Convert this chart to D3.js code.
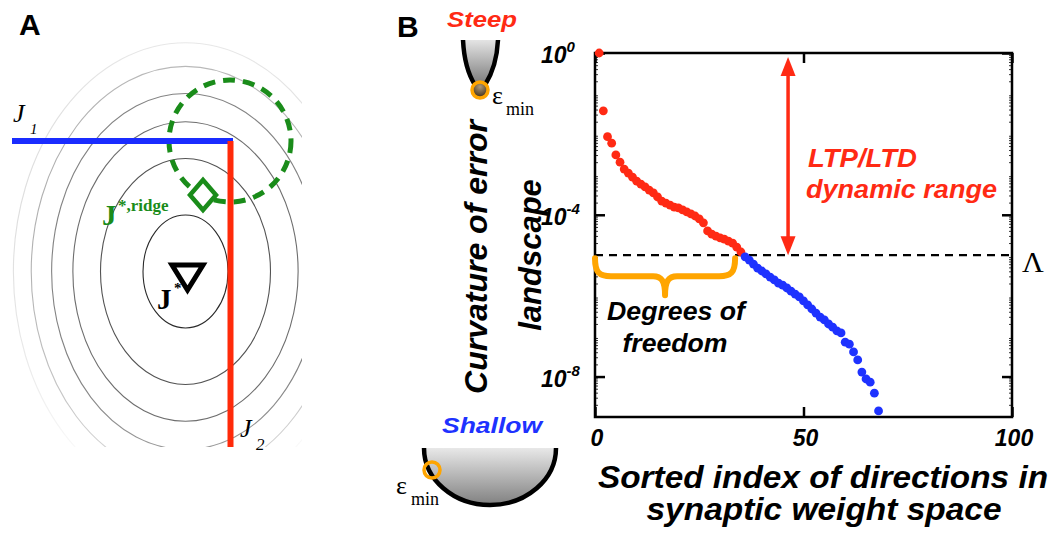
<!DOCTYPE html>
<html lang="en">
<head>
<meta charset="UTF-8">
<title>Curvature of error landscape</title>
<script src="https://cdnjs.cloudflare.com/ajax/libs/d3/7.8.5/d3.min.js"></script>
<style>
  body { margin: 0; background: #fff; }
  svg { display: block; }
  .sans { font-family: "Liberation Sans", Arial, sans-serif; font-weight: bold; font-style: italic; }
  .upright { font-style: normal; }
  .serif { font-family: "Liberation Serif", "Times New Roman", serif; }
</style>
</head>
<body>
<div id="chart"></div>
<script>
// sorted directions, curvature given as log10
const steepIndex = [1, 2, 3, 4, 5, 6, 7, 8, 9, 10, 11, 12, 13, 14, 15, 16, 17, 18,
  19, 20, 21, 22, 23, 24, 25, 26, 27, 28, 29, 30, 31, 32, 33, 34, 35];
const steepLog10 = [0, -1.43, -2.07, -2.23, -2.52, -2.70, -2.87, -2.97, -3.07, -3.17,
  -3.24, -3.31, -3.39, -3.46, -3.56, -3.66, -3.71, -3.76, -3.81, -3.83,
  -3.88, -3.93, -3.98, -4.03, -4.10, -4.20, -4.40, -4.48, -4.53, -4.57,
  -4.60, -4.65, -4.70, -4.80, -4.92];
const shallowIndex = [36, 37, 38, 39, 40, 41, 42, 43, 44, 45, 46, 47, 48, 49, 50, 51,
  52, 53, 54, 55, 56, 57, 58, 59, 60, 61, 62, 63, 64, 65, 66, 67, 68];
const shallowLog10 = [-5.04, -5.12, -5.22, -5.32, -5.39, -5.46, -5.54, -5.61, -5.69, -5.74,
  -5.81, -5.89, -5.96, -6.03, -6.13, -6.23, -6.33, -6.43, -6.53, -6.60,
  -6.70, -6.78, -6.87, -6.92, -7.15, -7.20, -7.39, -7.59, -7.89, -8.06,
  -8.14, -8.41, -8.85];
const lambdaLog10 = -5;
const xTickValues = [0, 50, 100];
const yTickExponents = [0, -4, -8];
// panel A: relative size of the contour ellipses
const contourScales = [1, 2, 2.65, 3.15, 3.63, 4.05];

const width = 1060, height = 537;
const red = "#ff2a14", blue = "#1e32ff", green = "#1a8c1a", orange = "#ffa500";

const svg = d3.select("#chart").append("svg")
  .attr("width", width).attr("height", height);

const defs = svg.append("defs");
const fade = defs.append("radialGradient").attr("id", "fade")
  .attr("gradientUnits", "userSpaceOnUse")
  .attr("cx", 185).attr("cy", 262).attr("r", 235)
  .attr("gradientTransform", "translate(185,262) scale(0.8,1) translate(-185,-262)");
fade.append("stop").attr("offset", "0.75").attr("stop-color", "#fff");
fade.append("stop").attr("offset", "1").attr("stop-color", "#000");
const mask = defs.append("mask").attr("id", "fadeMask");
mask.append("rect").attr("width", width).attr("height", height).attr("fill", "url(#fade)");
defs.append("clipPath").attr("id", "clipA")
  .append("rect").attr("x", 0).attr("y", 40).attr("width", 302).attr("height", 407);

const steepGrad = defs.append("linearGradient").attr("id", "steepGrad")
  .attr("x1", 0).attr("y1", 0).attr("x2", 0).attr("y2", 1);
steepGrad.append("stop").attr("offset", 0).attr("stop-color", "#e4e4e4");
steepGrad.append("stop").attr("offset", 1).attr("stop-color", "#7a7a7a");
const bowlGrad = defs.append("linearGradient").attr("id", "bowlGrad")
  .attr("x1", 0).attr("y1", 0).attr("x2", 0).attr("y2", 1);
bowlGrad.append("stop").attr("offset", 0).attr("stop-color", "#e8e8e8");
bowlGrad.append("stop").attr("offset", 1).attr("stop-color", "#808080");
const ballGrad = defs.append("radialGradient").attr("id", "ballGrad")
  .attr("cx", 0.5).attr("cy", 0.3).attr("r", 0.7);
ballGrad.append("stop").attr("offset", 0).attr("stop-color", "#b09a78");
ballGrad.append("stop").attr("offset", 1).attr("stop-color", "#3a2810");

// ---------- Panel A ----------
svg.append("text").attr("class", "sans upright").attr("x", 19).attr("y", 35)
  .attr("font-size", 30).text("A");

const cont = svg.append("g").attr("clip-path", "url(#clipA)").attr("mask", "url(#fadeMask)");
const contourGray = d3.scaleLinear().domain([1, 4.05]).range(["#2a2a2a", "#a8a8a8"]);
cont.selectAll("ellipse").data(contourScales).join("ellipse")
  .attr("cx", 185.5).attr("cy", 271.5)
  .attr("rx", k => 42.5 * k).attr("ry", k => 56.5 * k)
  .attr("fill", "none").attr("stroke", k => contourGray(k)).attr("stroke-width", 1.1);

svg.append("circle").attr("cx", 230).attr("cy", 141).attr("r", 61)
  .attr("fill", "none").attr("stroke", green).attr("stroke-width", 5)
  .attr("stroke-dasharray", "12 8");

svg.append("line").attr("x1", 12).attr("x2", 233).attr("y1", 141).attr("y2", 141)
  .attr("stroke", "#1a2cff").attr("stroke-width", 6);
svg.append("line").attr("x1", 230.5).attr("x2", 230.5).attr("y1", 141).attr("y2", 447)
  .attr("stroke", "#ff2a0a").attr("stroke-width", 6);

svg.append("path").attr("d", "M203,180 L216,195 L203,210 L190,195 Z")
  .attr("fill", "#fff").attr("stroke", green).attr("stroke-width", 4.5);

svg.append("path").attr("d", "M172,265 L203,265 L187.5,290 Z")
  .attr("fill", "none").attr("stroke", "#000").attr("stroke-width", 5)
  .attr("stroke-linejoin", "miter");

const jStar = svg.append("text").attr("class", "serif").attr("font-weight", "bold");
jStar.append("tspan").attr("x", 157).attr("y", 309).attr("font-size", 29).text("J");
jStar.append("tspan").attr("x", 174).attr("y", 293).attr("font-size", 15).text("*");

const jRidge = svg.append("text").attr("class", "serif").attr("font-weight", "bold").attr("fill", green);
jRidge.append("tspan").attr("x", 102).attr("y", 225).attr("font-size", 29).text("J");
jRidge.append("tspan").attr("x", 118).attr("y", 211).attr("font-size", 17).text("*,ridge");

const j1 = svg.append("text").attr("class", "serif").attr("font-style", "italic");
j1.append("tspan").attr("x", 13).attr("y", 122).attr("font-size", 26).text("J");
j1.append("tspan").attr("x", 30).attr("y", 134).attr("font-size", 15).text("1");
const j2 = svg.append("text").attr("class", "serif").attr("font-style", "italic");
j2.append("tspan").attr("x", 240).attr("y", 437).attr("font-size", 26).text("J");
j2.append("tspan").attr("x", 256).attr("y", 450).attr("font-size", 17).text("2");

// ---------- Panel B ----------
svg.append("text").attr("class", "sans upright").attr("x", 397).attr("y", 37)
  .attr("font-size", 30).text("B");

const x = d3.scaleLinear().domain([0, 100]).range([595, 1012]);
const y = d3.scaleLog().domain([1e-9, 1]).range([417, 53]);

// minor log ticks
const minorTicks = [];
for (let e = -9; e < 0; e++) for (let m = 2; m <= 9; m++) minorTicks.push(m * Math.pow(10, e));

const axisStyle = g => {
  g.select(".domain").remove();
  g.selectAll("line").attr("stroke", "#000");
};
svg.append("g").attr("transform", `translate(${x(0)},0)`)
  .call(d3.axisLeft(y).tickValues(minorTicks).tickSize(-3).tickFormat(""))
  .call(axisStyle).selectAll("line").attr("stroke-width", 0.8);
svg.append("g").attr("transform", `translate(${x(100)},0)`)
  .call(d3.axisRight(y).tickValues(minorTicks).tickSize(-3).tickFormat(""))
  .call(axisStyle).selectAll("line").attr("stroke-width", 0.8);
const majorY = yTickExponents.map(e => Math.pow(10, e));
svg.append("g").attr("transform", `translate(${x(0)},0)`)
  .call(d3.axisLeft(y).tickValues(majorY).tickSize(-10).tickFormat(""))
  .call(axisStyle).selectAll("line").attr("stroke-width", 2.5);
svg.append("g").attr("transform", `translate(${x(100)},0)`)
  .call(d3.axisRight(y).tickValues(majorY).tickSize(-10).tickFormat(""))
  .call(axisStyle).selectAll("line").attr("stroke-width", 2.5);
svg.append("g").attr("transform", `translate(0,${y(1e-9)})`)
  .call(d3.axisBottom(x).tickValues(xTickValues).tickSize(-10).tickFormat(""))
  .call(axisStyle).selectAll("line").attr("stroke-width", 2.5);
svg.append("g").attr("transform", `translate(0,${y(1)})`)
  .call(d3.axisTop(x).tickValues(xTickValues).tickSize(-10).tickFormat(""))
  .call(axisStyle).selectAll("line").attr("stroke-width", 2.5);

svg.append("rect").attr("x", x(0)).attr("y", y(1))
  .attr("width", x(100) - x(0)).attr("height", y(1e-9) - y(1))
  .attr("fill", "none").attr("stroke", "#000").attr("stroke-width", 2.5);

// tick labels
yTickExponents.forEach(e => {
  const t = svg.append("text").attr("class", "sans").attr("x", 541)
    .attr("y", y(Math.pow(10, e)) + 10).attr("font-size", 23);
  t.append("tspan").text("10");
  t.append("tspan").attr("dy", -11).attr("font-size", 15).text(e === 0 ? "0" : "-" + (-e));
});
svg.selectAll(".xlab").data(xTickValues).join("text").attr("class", "sans xlab")
  .attr("x", d => x(d) + 2).attr("y", 446).attr("text-anchor", "middle")
  .attr("font-size", 23).text(d => d);

// threshold lambda
const yl = y(Math.pow(10, lambdaLog10));
svg.append("line").attr("x1", x(0)).attr("x2", x(100)).attr("y1", yl).attr("y2", yl)
  .attr("stroke", "#000").attr("stroke-width", 2.2).attr("stroke-dasharray", "8 6");
svg.append("text").attr("class", "serif").attr("x", 1022).attr("y", 272)
  .attr("font-size", 30).text("Λ");

// brace for degrees of freedom
const bx0 = x(0), bx1 = x(33.6), bm = x(16.8), bt = yl + 3, bh = yl + 21, btip = yl + 40;
svg.append("path")
  .attr("d", `M${bx0},${bt} C${bx0},${bh - 4} ${bx0 + 4},${bh} ${bx0 + 16},${bh}
    L${bm - 12},${bh} C${bm - 4},${bh} ${bm},${bh + 4} ${bm},${btip}
    C${bm},${bh + 4} ${bm + 4},${bh} ${bm + 12},${bh}
    L${bx1 - 16},${bh} C${bx1 - 4},${bh} ${bx1},${bh - 4} ${bx1},${bt}`)
  .attr("fill", "none").attr("stroke", orange).attr("stroke-width", 6)
  .attr("stroke-linecap", "round").attr("stroke-linejoin", "round");
svg.append("text").attr("class", "sans").attr("x", 676).attr("y", 320)
  .attr("text-anchor", "middle").attr("font-size", 25)
  .attr("textLength", 138).attr("lengthAdjust", "spacingAndGlyphs").text("Degrees of");
svg.append("text").attr("class", "sans").attr("x", 675).attr("y", 352)
  .attr("text-anchor", "middle").attr("font-size", 25)
  .attr("textLength", 105).attr("lengthAdjust", "spacingAndGlyphs").text("freedom");

// data points
const pts = svg.append("g");
pts.selectAll(".steep").data(steepIndex).join("circle").attr("class", "steep")
  .attr("cx", d => x(d)).attr("cy", (d, i) => y(Math.pow(10, steepLog10[i])))
  .attr("r", 4.4).attr("fill", red);
pts.selectAll(".shallow").data(shallowIndex).join("circle").attr("class", "shallow")
  .attr("cx", d => x(d)).attr("cy", (d, i) => y(Math.pow(10, shallowLog10[i])))
  .attr("r", 4.4).attr("fill", blue);

// dynamic range arrow
const ax = x(46.3), aTop = y(1) + 4, aBot = yl;
svg.append("line").attr("x1", ax).attr("x2", ax).attr("y1", aTop + 14).attr("y2", aBot - 14)
  .attr("stroke", red).attr("stroke-width", 3.5);
svg.append("path").attr("d", `M${ax},${aTop} L${ax - 7.5},${aTop + 19} L${ax + 7.5},${aTop + 19} Z`).attr("fill", red);
svg.append("path").attr("d", `M${ax},${aBot} L${ax - 7.5},${aBot - 19} L${ax + 7.5},${aBot - 19} Z`).attr("fill", red);
svg.append("text").attr("class", "sans").attr("x", 808).attr("y", 167).attr("fill", red)
  .attr("font-size", 25).attr("textLength", 109).attr("lengthAdjust", "spacingAndGlyphs").text("LTP/LTD");
svg.append("text").attr("class", "sans").attr("x", 806).attr("y", 198).attr("fill", red)
  .attr("font-size", 25).attr("textLength", 191).attr("lengthAdjust", "spacingAndGlyphs").text("dynamic range");

// axis titles
svg.append("text").attr("class", "sans").attr("x", 823).attr("y", 488)
  .attr("text-anchor", "middle").attr("font-size", 31)
  .attr("textLength", 450).attr("lengthAdjust", "spacingAndGlyphs").text("Sorted index of directions in");
svg.append("text").attr("class", "sans").attr("x", 824).attr("y", 520)
  .attr("text-anchor", "middle").attr("font-size", 31)
  .attr("textLength", 355).attr("lengthAdjust", "spacingAndGlyphs").text("synaptic weight space");
svg.append("text").attr("class", "sans").attr("transform", "translate(487,257) rotate(-90)")
  .attr("text-anchor", "middle").attr("font-size", 32).text("Curvature of error");
svg.append("text").attr("class", "sans").attr("transform", "translate(541,255) rotate(-90)")
  .attr("text-anchor", "middle").attr("font-size", 31).text("landscape");

// steep well icon
svg.append("text").attr("class", "sans").attr("x", 447).attr("y", 27).attr("fill", red)
  .attr("font-size", 22).attr("textLength", 70).attr("lengthAdjust", "spacingAndGlyphs").text("Steep");
svg.append("path").attr("d", "M463,40 L498,40 C497,60 492,74 485,85 L475,85 C468,74 464,60 463,40 Z")
  .attr("fill", "url(#steepGrad)");
svg.append("path").attr("d", "M463,40 C464,60 468,74 475,85").attr("fill", "none")
  .attr("stroke", "#000").attr("stroke-width", 4.5);
svg.append("path").attr("d", "M498,40 C497,60 492,74 485,85").attr("fill", "none")
  .attr("stroke", "#000").attr("stroke-width", 4.5);
svg.append("circle").attr("cx", 480).attr("cy", 90).attr("r", 8)
  .attr("fill", "url(#ballGrad)").attr("stroke", orange).attr("stroke-width", 3.5);
const e1 = svg.append("text").attr("class", "serif");
e1.append("tspan").attr("x", 492).attr("y", 104).attr("font-size", 26).text("ε");
e1.append("tspan").attr("x", 506).attr("y", 115).attr("font-size", 18).text("min");

// shallow well icon
svg.append("text").attr("class", "sans").attr("x", 442).attr("y", 433).attr("fill", blue)
  .attr("font-size", 22).attr("textLength", 100).attr("lengthAdjust", "spacingAndGlyphs").text("Shallow");
svg.append("path").attr("d", "M424,448 A66,57 0 0 0 556,448 Z").attr("fill", "url(#bowlGrad)");
svg.append("path").attr("d", "M424,448 A66,57 0 0 0 556,448").attr("fill", "none")
  .attr("stroke", "#000").attr("stroke-width", 4.5);
svg.append("circle").attr("cx", 432).attr("cy", 470).attr("r", 8)
  .attr("fill", "none").attr("stroke", orange).attr("stroke-width", 3.5);
const e2 = svg.append("text").attr("class", "serif");
e2.append("tspan").attr("x", 396).attr("y", 494).attr("font-size", 26).text("ε");
e2.append("tspan").attr("x", 411).attr("y", 505).attr("font-size", 18).text("min");
</script>
</body>
</html>
